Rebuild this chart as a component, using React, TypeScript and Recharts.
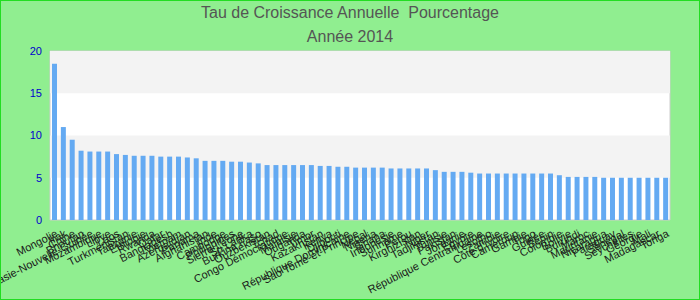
import React from "react";
import { BarChart, Bar, XAxis, YAxis, ReferenceArea } from "recharts";

const countries = [
  "Mongolie", "Irak", "Chine", "Bhoutan", "Papouasie-Nouvelle-Guinée",
  "Mozambique", "Libye", "Laos", "Turkménistan", "Tanzanie",
  "Éthiopie", "Rwanda", "Qatar", "Bangladesh", "Vietnam",
  "Azerbaïdjan", "Panama", "Afghanistan", "Inde", "Cambodge",
  "Philippines", "Sierra Leone", "Sri Lanka", "Burkina Faso", "Ouzbékistan",
  "Tchad", "Congo Démocratique", "Malaisie", "Ouganda", "Timor",
  "Kazakhstan", "Kenya", "Djibouti", "République Dominicaine", "Sao Tomé-et-Principe",
  "Népal", "Nigeria", "Ghana", "Indonésie", "Suriname",
  "Pérou", "Kirghizistan", "Niger", "Tadjikistan", "Tunisie",
  "Pakistan", "Jordanie", "Égypte", "République Centrafricaine", "Lesotho",
  "Zambie", "Côte d'Ivoire", "Cameroun", "Gambie", "Togo",
  "Guinée", "Bénin", "Colombie", "Bolivie", "Burundi",
  "Maroc", "Mauritanie", "Nicaragua", "Paraguay", "Sénégal",
  "Seychelles", "Géorgie", "Mali", "Madagascar", "Tonga",
];

const growth = [
  18.5, 11.0, 9.5, 8.2, 8.1, 8.1, 8.1, 7.8, 7.7, 7.6,
  7.6, 7.6, 7.5, 7.5, 7.5, 7.4, 7.3, 7.0, 7.0, 7.0,
  6.9, 6.9, 6.8, 6.7, 6.5, 6.5, 6.5, 6.5, 6.5, 6.5,
  6.4, 6.4, 6.3, 6.3, 6.2, 6.2, 6.2, 6.2, 6.1, 6.1,
  6.1, 6.1, 6.1, 5.9, 5.7, 5.7, 5.7, 5.6, 5.5, 5.5,
  5.5, 5.5, 5.5, 5.5, 5.5, 5.5, 5.5, 5.3, 5.1, 5.1,
  5.1, 5.1, 5.0, 5.0, 5.0, 5.0, 5.0, 5.0, 5.0, 5.0,
];

const yTicks = [0, 5, 10, 15, 20];

const data = countries.map((name, i) => ({ name, value: growth[i] }));

const font = "'Liberation Sans', Arial, sans-serif";

const AngledTick = (props: any) => {
  const { x, y, payload } = props;
  return (
    <g transform={`translate(${x},${y})`}>
      <text
        x={0}
        y={0}
        dy={9}
        textAnchor="end"
        transform="rotate(-27)"
        fontSize={11}
        fontFamily={font}
        fill="#1a1a1a"
      >
        {payload.value}
      </text>
    </g>
  );
};

const App = () => {
  return (
    <div
      style={{
        position: "fixed",
        left: 0,
        top: 0,
        width: 700,
        height: 300,
        background: "#90ee90",
        fontFamily: font,
      }}
    >
      <div
        style={{
          position: "absolute",
          top: 3,
          width: 700,
          textAlign: "center",
          fontSize: 16,
          color: "#555",
          lineHeight: "20px",
          whiteSpace: "pre",
        }}
      >
        {"Tau de Croissance Annuelle  Pourcentage"}
      </div>
      <div
        style={{
          position: "absolute",
          top: 27,
          width: 700,
          textAlign: "center",
          fontSize: 16,
          color: "#555",
          lineHeight: "20px",
        }}
      >
        Année 2014
      </div>
      <BarChart
        width={700}
        height={300}
        data={data}
        margin={{ top: 51, right: 30, bottom: 0, left: 0 }}
      >
        <ReferenceArea y1={0} y2={20} fill="#ffffff" fillOpacity={1} stroke="#cccccc" strokeWidth={1} />
        <ReferenceArea y1={15} y2={20} fill="#f3f3f3" fillOpacity={1} />
        <ReferenceArea y1={5} y2={10} fill="#f3f3f3" fillOpacity={1} />
        <XAxis
          dataKey="name"
          interval={0}
          axisLine={false}
          tickLine={false}
          height={80}
          tick={<AngledTick />}
        />
        <YAxis
          domain={[0, 20]}
          ticks={yTicks}
          width={50}
          axisLine={false}
          tickLine={false}
          tick={{ fill: "#0000cc", fontSize: 11, fontFamily: font }}
        />
        <Bar dataKey="value" fill="#64aaf2" barSize={5} isAnimationActive={false} />
      </BarChart>
      <div
        style={{
          position: "absolute",
          left: 0,
          top: 0,
          width: 700,
          height: 300,
          boxSizing: "border-box",
          border: "1px solid #22dd22",
          pointerEvents: "none",
        }}
      />
    </div>
  );
};

export default App;
